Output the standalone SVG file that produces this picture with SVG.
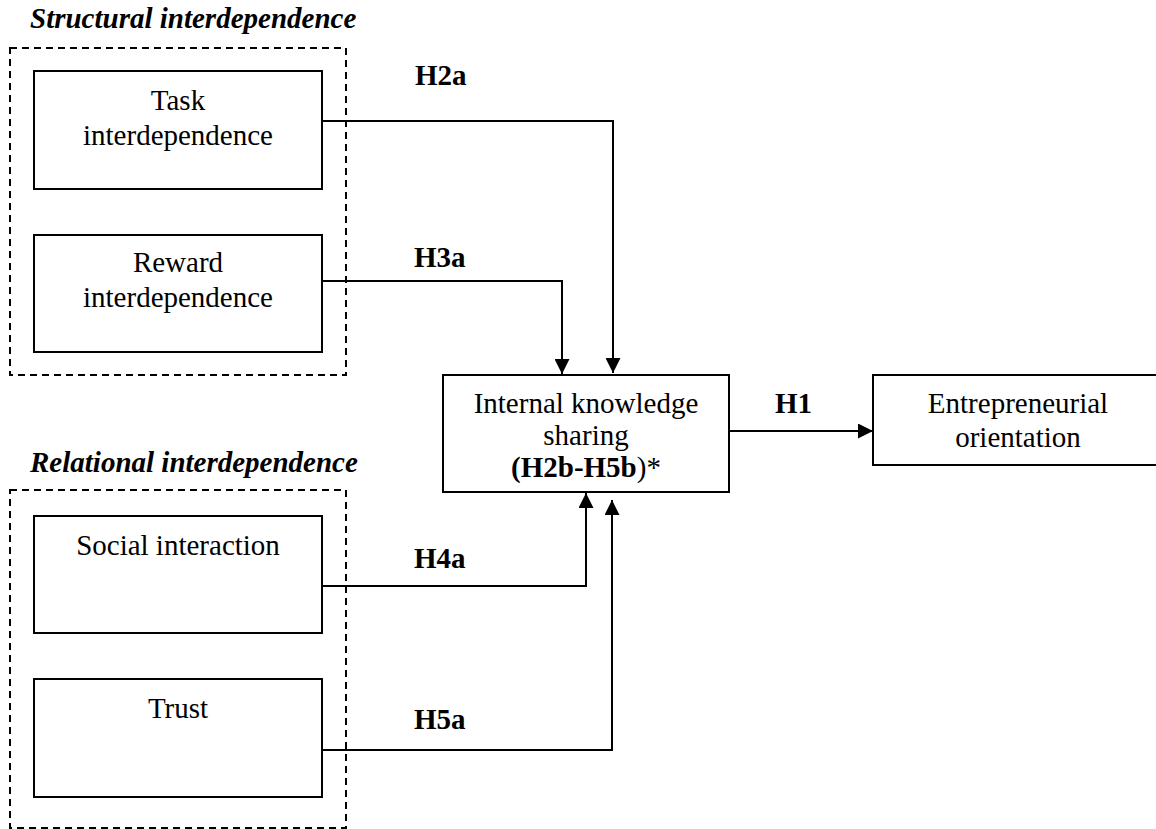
<svg xmlns="http://www.w3.org/2000/svg" width="1156" height="829" viewBox="0 0 1156 829">
<style>
.bg{fill:#fff}
.box{fill:#fff;stroke:#000;stroke-width:2}
.grp{fill:none;stroke:#000;stroke-width:2;stroke-dasharray:7 5}
.t{font-family:"Liberation Serif","Times New Roman",serif;font-size:29px;fill:#000;text-anchor:middle}
.h{font-family:"Liberation Serif","Times New Roman",serif;font-size:29px;font-weight:bold;font-style:italic;fill:#000}
.lb{font-family:"Liberation Serif","Times New Roman",serif;font-size:29px;font-weight:bold;fill:#000}
.c{fill:none;stroke:#000;stroke-width:2}
</style>
<defs>
<marker id="arr" markerUnits="userSpaceOnUse" markerWidth="15" markerHeight="15" refX="15" refY="7.5" orient="auto">
<path d="M0,0 L15,7.5 L0,15 z" fill="#000"/>
</marker>
</defs>
<rect class="bg" x="0" y="0" width="1156" height="829"/>
<g id="structural-group">
<text class="h" x="30" y="28">Structural interdependence</text>
<rect class="grp" x="10" y="48" width="336" height="327"/>
</g>
<g id="relational-group">
<text class="h" x="30" y="472">Relational interdependence</text>
<rect class="grp" x="10" y="490" width="336" height="338"/>
</g>
<g id="task">
<rect class="box" x="34" y="71" width="288" height="118"/>
<text class="t" x="178" y="110">Task</text>
<text class="t" x="178" y="145">interdependence</text>
</g>
<g id="reward">
<rect class="box" x="34" y="235" width="288" height="117"/>
<text class="t" x="178" y="272">Reward</text>
<text class="t" x="178" y="307">interdependence</text>
</g>
<g id="social">
<rect class="box" x="34" y="516" width="288" height="117"/>
<text class="t" x="178" y="555">Social interaction</text>
</g>
<g id="trust">
<rect class="box" x="34" y="679" width="288" height="118"/>
<text class="t" x="178" y="718">Trust</text>
</g>
<g id="iks">
<rect class="box" x="443" y="375" width="286" height="117"/>
<text class="t" x="586" y="413">Internal knowledge</text>
<text class="t" x="586" y="445">sharing</text>
<text class="t" x="586" y="477"><tspan font-weight="bold">(H2b-H5b</tspan>)*</text>
</g>
<g id="eo">
<rect class="box" x="873" y="375" width="290" height="90"/>
<text class="t" x="1018" y="413">Entrepreneurial</text>
<text class="t" x="1018" y="447">orientation</text>
</g>
<g id="connectors">
<path class="c" d="M322,121 H613 V373" marker-end="url(#arr)"/>
<path class="c" d="M322,281 H562 V374" marker-end="url(#arr)"/>
<path class="c" d="M322,586 H586 V493" marker-end="url(#arr)"/>
<path class="c" d="M322,750 H612 V500" marker-end="url(#arr)"/>
<path class="c" d="M730,431 H873" marker-end="url(#arr)"/>
<text class="lb" x="415" y="85">H2a</text>
<text class="lb" x="414" y="267">H3a</text>
<text class="lb" x="414" y="568">H4a</text>
<text class="lb" x="414" y="729">H5a</text>
<text class="lb" x="775" y="413">H1</text>
</g>
</svg>
